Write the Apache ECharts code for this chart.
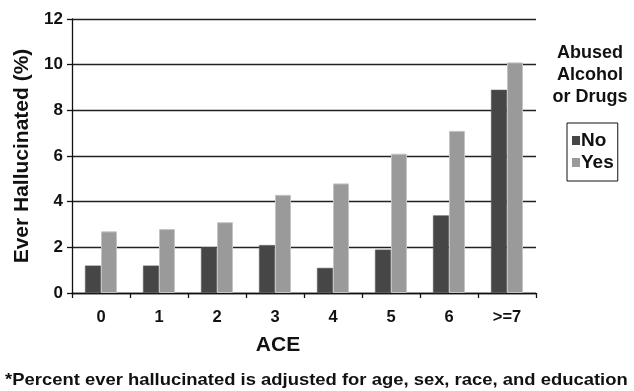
<!DOCTYPE html>
<html><head><meta charset="utf-8">
<script src="https://cdn.jsdelivr.net/npm/echarts@6/dist/echarts.min.js"></script>
<style>html,body{margin:0;padding:0;background:#fff}#c{width:634px;height:391px}</style>
</head><body><div id="c"></div>
<script>
const categories = ['0','1','2','3','4','5','6','>=7'];
const noValues = [1.2, 1.2, 2.0, 2.1, 1.1, 1.9, 3.4, 8.9];
const yesValues = [2.7, 2.8, 3.1, 4.3, 4.8, 6.1, 7.1, 10.1];
const seriesNames = ['No', 'Yes'];
const yTicks = {min: 0, max: 12, interval: 2};

const F = 'Liberation Sans, Arial, sans-serif';
const chart = echarts.init(document.getElementById('c'));
chart.setOption({
  animation: false,
  grid: {left: 72, right: 98, top: 19, bottom: 98},
  xAxis: {
    type: 'category', data: categories,
    axisLine: {lineStyle: {color: '#111', width: 1.3}},
    axisTick: {show: true, interval: 0, length: 5, lineStyle: {color: '#111', width: 1.3}},
    axisLabel: {fontFamily: F, fontWeight: 'bold', fontSize: 16.5, color: '#111', margin: 16, interval: 0}
  },
  yAxis: {
    type: 'value', min: yTicks.min, max: yTicks.max, interval: yTicks.interval,
    name: 'Ever Hallucinated (%)', nameLocation: 'middle', nameGap: 31,
    nameTextStyle: {fontFamily: F, fontWeight: 'bold', fontSize: 21, color: '#111'},
    axisLine: {show: true, lineStyle: {color: '#111', width: 1.3}},
    axisTick: {show: true, length: 5, lineStyle: {color: '#111', width: 1.3}},
    axisLabel: {fontFamily: F, fontWeight: 'bold', fontSize: 17, color: '#111', margin: 9},
    splitLine: {lineStyle: {color: '#222', width: 1.3}}
  },
  legend: {
    data: seriesNames, orient: 'vertical', left: 567, top: 123,
    icon: 'rect', itemWidth: 8, itemHeight: 9, itemGap: 3,
    itemStyle: {borderWidth: 0},
    borderColor: '#111', borderWidth: 1, padding: [8, 4, 9, 5],
    textStyle: {fontFamily: F, fontWeight: 'bold', fontSize: 19, color: '#111', lineHeight: 19, padding: [0, 0, 0, -4]}
  },
  graphic: [
    {type: 'text', x: 590, y: 75.5, style: {text: 'Abused\nAlcohol\nor Drugs', align: 'center', verticalAlign: 'middle', textAlign: 'center', font: 'bold 18px ' + F, fill: '#111', lineHeight: 22}},
    {type: 'text', x: 278, y: 345, style: {text: 'ACE', align: 'center', verticalAlign: 'middle', textAlign: 'center', font: 'bold 21px ' + F, fill: '#111'}},
    {type: 'text', x: 5, y: 380, scaleX: 1.084, style: {text: '*Percent ever hallucinated is adjusted for age, sex, race, and education', align: 'left', verticalAlign: 'middle', font: 'bold 17px ' + F, fill: '#111'}}
  ],
  series: [
    {name: seriesNames[0], type: 'bar', data: noValues, barWidth: 16, barGap: '0%', itemStyle: {color: '#464646', borderColor: '#5a5a5a', borderWidth: 0.6}},
    {name: seriesNames[1], type: 'bar', data: yesValues, barWidth: 16, barGap: '0%', itemStyle: {color: '#9a9a9a', borderColor: '#c4c4c4', borderWidth: 1}}
  ]
});
</script></body></html>
